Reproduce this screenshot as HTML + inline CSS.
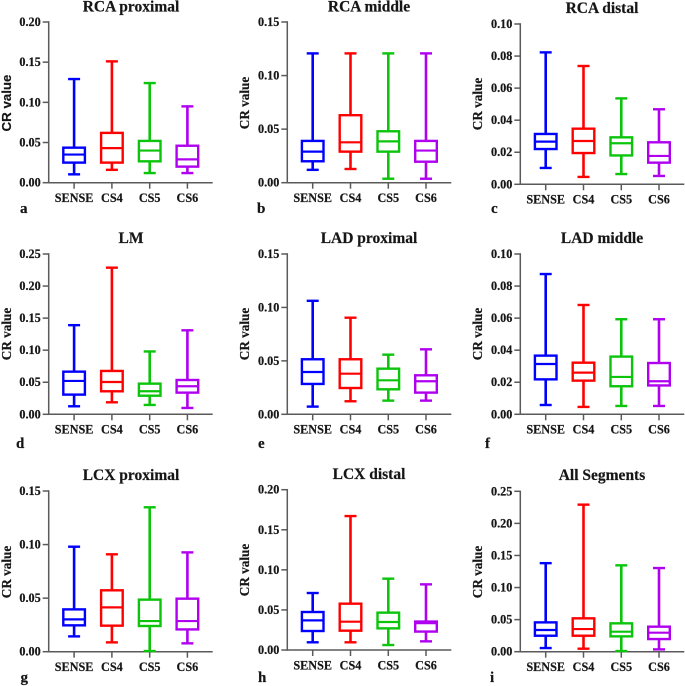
<!DOCTYPE html>
<html lang="en">
<head>
<meta charset="utf-8">
<title>CR value box plots by coronary segment</title>
<style>
html,body{margin:0;padding:0;background:#fff;width:685px;height:686px;overflow:hidden}
svg{display:block;filter:blur(0.35px)}
text{font-family:"Liberation Serif",serif;font-weight:bold;fill:#161616;stroke:#161616;stroke-width:0.2px}
</style>
</head>
<body>
<svg id="figure" xmlns="http://www.w3.org/2000/svg" width="685" height="686" viewBox="0 0 685 686"></svg>
<script>
const categories = ['SENSE', 'CS4', 'CS5', 'CS6'];
const panelTitles = ['RCA proximal', 'RCA middle', 'RCA distal', 'LM', 'LAD proximal', 'LAD middle', 'LCX proximal', 'LCX distal', 'All Segments'];
const panelLetters = ['a', 'b', 'c', 'd', 'e', 'f', 'g', 'h', 'i'];
const tickLabels = [
  ['0.00', '0.05', '0.10', '0.15', '0.20'],
  ['0.00', '0.05', '0.10', '0.15'],
  ['0.00', '0.02', '0.04', '0.06', '0.08', '0.10'],
  ['0.00', '0.05', '0.10', '0.15', '0.20', '0.25'],
  ['0.00', '0.05', '0.10', '0.15'],
  ['0.00', '0.02', '0.04', '0.06', '0.08', '0.10'],
  ['0.00', '0.05', '0.10', '0.15'],
  ['0.00', '0.05', '0.10', '0.15', '0.20'],
  ['0.00', '0.05', '0.10', '0.15', '0.20', '0.25']
];
const whiskerHigh = [
  [0.129, 0.151, 0.124, 0.095],
  [0.1207, 0.1207, 0.1207, 0.1207],
  [0.0823, 0.0738, 0.0536, 0.0468],
  [0.139, 0.2287, 0.098, 0.131],
  [0.1062, 0.0904, 0.0558, 0.0608],
  [0.0875, 0.0682, 0.0593, 0.0593],
  [0.098, 0.0909, 0.1348, 0.0927],
  [0.0711, 0.1671, 0.089, 0.0819],
  [0.138, 0.2292, 0.1346, 0.1304]
];
const upperQuartile = [
  [0.0436, 0.062, 0.052, 0.046],
  [0.039, 0.063, 0.048, 0.039],
  [0.0314, 0.0347, 0.0293, 0.0262],
  [0.0665, 0.0676, 0.0478, 0.0535],
  [0.0515, 0.0515, 0.0427, 0.0365],
  [0.0366, 0.0322, 0.036, 0.032],
  [0.0395, 0.0573, 0.0486, 0.0495],
  [0.0474, 0.0578, 0.0466, 0.0355],
  [0.0457, 0.052, 0.0442, 0.039]
];
const medians = [
  [0.035, 0.043, 0.04, 0.029],
  [0.029, 0.0377, 0.0386, 0.03],
  [0.0266, 0.027, 0.0256, 0.0177],
  [0.052, 0.0504, 0.0359, 0.0437],
  [0.0396, 0.038, 0.0318, 0.0309],
  [0.0314, 0.026, 0.0233, 0.0206],
  [0.0302, 0.0414, 0.0286, 0.0286],
  [0.037, 0.0353, 0.0349, 0.0335],
  [0.0338, 0.0353, 0.0312, 0.0296]
];
const lowerQuartile = [
  [0.025, 0.025, 0.0266, 0.02],
  [0.02, 0.029, 0.029, 0.0196],
  [0.022, 0.0195, 0.018, 0.0135],
  [0.0307, 0.0359, 0.029, 0.0338],
  [0.0284, 0.0246, 0.0234, 0.0203],
  [0.0218, 0.021, 0.0175, 0.018],
  [0.0246, 0.0243, 0.024, 0.0208],
  [0.0237, 0.0241, 0.027, 0.023],
  [0.0249, 0.0249, 0.0239, 0.0197]
];
const whiskerLow = [
  [0.0104, 0.016, 0.012, 0.012],
  [0.012, 0.0128, 0.0037, 0.0037],
  [0.0102, 0.0046, 0.0064, 0.0052],
  [0.0125, 0.0187, 0.0146, 0.0099],
  [0.0072, 0.0122, 0.0128, 0.0128],
  [0.0058, 0.0046, 0.0052, 0.0052],
  [0.0143, 0.0087, 0.0006, 0.0078],
  [0.0096, 0.0096, 0.0062, 0.0108],
  [0.0057, 0.0047, 0.001, 0.0036]
];

const NS = 'http://www.w3.org/2000/svg';
const figure = document.getElementById('figure');
const seriesColors = ['#0000ff', '#ff0000', '#0cc40c', '#b000f0'];
const axisColor = '#5a5a5a';
const categoryOffsets = [25.4, 63.2, 101, 138.7];
const frames = [
  {x: 48.7, top: 22, bottom: 182.7, titleX: 131, titleY: 11.5, labelX: 11, labelY: 103, letterX: 20, letterY: 213, sans: true},
  {x: 287.3, top: 22, bottom: 182.7, titleX: 369, titleY: 11.5, labelX: 249, labelY: 103, letterX: 257, letterY: 213},
  {x: 520.3, top: 24, bottom: 184.3, titleX: 602, titleY: 13, labelX: 482, labelY: 104, letterX: 491, letterY: 213},
  {x: 48.7, top: 254, bottom: 414.3, titleX: 131, titleY: 243, labelX: 11, labelY: 334, letterX: 16, letterY: 448},
  {x: 287.3, top: 254, bottom: 414.3, titleX: 369, titleY: 243, labelX: 249, labelY: 334, letterX: 258, letterY: 448},
  {x: 520.3, top: 254, bottom: 414.3, titleX: 602, titleY: 243, labelX: 482, labelY: 334, letterX: 485, letterY: 448},
  {x: 48.7, top: 491, bottom: 651.7, titleX: 131, titleY: 480, labelX: 11, labelY: 572, letterX: 20.5, letterY: 682},
  {x: 287.3, top: 489.7, bottom: 650, titleX: 369, titleY: 479, labelX: 249, labelY: 570, letterX: 258, letterY: 682},
  {x: 520.3, top: 491.3, bottom: 651.7, titleX: 602, titleY: 480, labelX: 482, labelY: 572, letterX: 490, letterY: 682}
];

function make(parent, tag, attrs, content) {
  const el = document.createElementNS(NS, tag);
  for (const key in attrs) el.setAttribute(key, attrs[key]);
  if (content !== undefined) el.textContent = content;
  parent.appendChild(el);
  return el;
}

function segment(parent, x1, y1, x2, y2, color, width) {
  return make(parent, 'line', {x1: x1, y1: y1, x2: x2, y2: y2, stroke: color, 'stroke-width': width});
}

function drawPanel(i) {
  const f = frames[i];
  const labels = tickLabels[i];
  const maxValue = Number(labels[labels.length - 1]);
  const yScale = v => f.bottom - (v / maxValue) * (f.bottom - f.top);
  const xScale = c => f.x + categoryOffsets[c];

  const panel = make(figure, 'g', {});
  
  

  const title = make(panel, 'text', {x: f.titleX, y: f.titleY, 'text-anchor': 'middle', 'font-size': 15.5}, panelTitles[i]);
  
  

  const letter = make(panel, 'text', {x: f.letterX, y: f.letterY, 'font-size': 15}, panelLetters[i]);
  
  

  const yTitle = make(panel, 'text', {
    x: f.labelX, y: f.labelY, 'text-anchor': 'middle',
    'font-size': f.sans ? 13.3 : 13.2,
    transform: 'rotate(-90 ' + f.labelX + ' ' + f.labelY + ')'
  }, 'CR value');
  if (f.sans) yTitle.style.fontFamily = '"Liberation Sans", sans-serif';
  
  

  const yAxis = segment(panel, f.x, f.top - 0.7, f.x, f.bottom + 0.7, axisColor, 1.5);
  
  

  const xAxis = segment(panel, f.x, f.bottom, f.x + 164, f.bottom, axisColor, 1.5);
  
  

  labels.forEach(label => {
    const y = yScale(Number(label));
    const tick = segment(panel, f.x - 6, y, f.x, y, axisColor, 1.5);
    
    
    const tickText = make(panel, 'text', {x: f.x - 8, y: y + 4, 'text-anchor': 'end', 'font-size': 12.2}, label);
    
    
  });

  categories.forEach((name, c) => {
    const x = xScale(c);
    const color = seriesColors[c];
    const tick = segment(panel, x, f.bottom, x, f.bottom + 6, axisColor, 1.5);
    
    
    const catText = make(panel, 'text', {x: x, y: f.bottom + 19.3, 'text-anchor': 'middle', 'font-size': 12.2}, name);
    
    

    const box = make(panel, 'g', {});
    
    

    const hi = yScale(whiskerHigh[i][c]);
    const q3 = yScale(upperQuartile[i][c]);
    const med = yScale(medians[i][c]);
    const q1 = yScale(lowerQuartile[i][c]);
    const lo = yScale(whiskerLow[i][c]);

    segment(box, x, hi, x, q3, color, 2.6);
    segment(box, x, q1, x, lo, color, 2.6);
    segment(box, x - 6, hi, x + 6, hi, color, 2.4);
    segment(box, x - 6, lo, x + 6, lo, color, 2.4);
    make(box, 'rect', {x: x - 10.8, y: q3, width: 21.6, height: q1 - q3, fill: 'none', stroke: color, 'stroke-width': 2.4});
    segment(box, x - 10.8, med, x + 10.8, med, color, 2.2);
  });
}

panelTitles.forEach((_, i) => drawPanel(i));
</script>
</body>
</html>
